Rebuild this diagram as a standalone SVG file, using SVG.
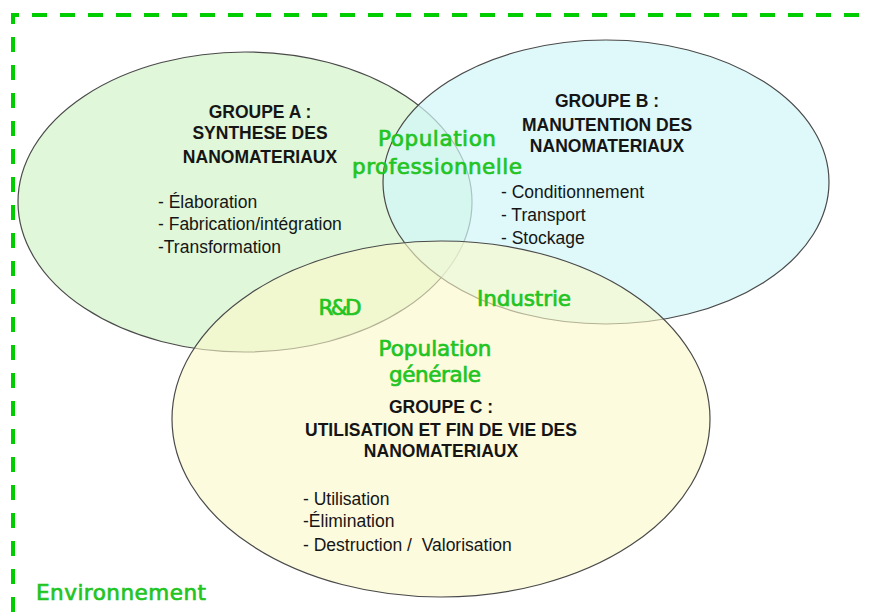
<svg xmlns="http://www.w3.org/2000/svg" width="871" height="612" viewBox="0 0 871 612">
  <style>
    .ell { stroke: #4a4a4a; stroke-width: 1.2; }
    .head { font-family: "Liberation Sans", Arial, sans-serif; font-size: 17.5px; font-weight: bold; fill: #151515; text-anchor: middle; }
    .item { font-family: "Liberation Sans", Arial, sans-serif; font-size: 17.5px; fill: #151515; white-space: pre; }
    .pop { font-family: "DejaVu Sans", Verdana, sans-serif; font-size: 21.5px; fill: #22c422; stroke: #22c422; stroke-width: 0.7; text-anchor: middle; }
    .frame { fill: none; stroke: #00cc00; stroke-width: 4; stroke-dasharray: 15 13; }
  </style>
  <rect width="871" height="612" fill="#ffffff"/>

  <!-- dashed environment frame -->
  <path class="frame" d="M13 612 V15 H871"/>

  <g id="groupe-a">
    <ellipse class="ell" cx="245" cy="202" rx="227" ry="150" fill="#d8f5d0" fill-opacity="0.8"/>
  </g>
  <g id="groupe-b">
    <ellipse class="ell" cx="606" cy="182" rx="223" ry="142" fill="#d2f7f8" fill-opacity="0.7"/>
  </g>
  <g id="groupe-c">
    <ellipse class="ell" cx="441" cy="419" rx="269" ry="178" fill="#fbf8c8" fill-opacity="0.6"/>
  </g>

  <!-- group texts -->
  <g id="texte-a">
    <text class="head" x="260" y="118">GROUPE A :</text>
    <text class="head" x="260" y="139">SYNTHESE DES</text>
    <text class="head" x="260" y="163">NANOMATERIAUX</text>
    <text class="item" x="158" y="208">- Élaboration</text>
    <text class="item" x="158" y="230">- Fabrication/intégration</text>
    <text class="item" x="158" y="253">-Transformation</text>
  </g>
  <g id="texte-b">
    <text class="head" x="607" y="107">GROUPE B :</text>
    <text class="head" x="607" y="131">MANUTENTION DES</text>
    <text class="head" x="607" y="152">NANOMATERIAUX</text>
    <text class="item" x="501" y="198">- Conditionnement</text>
    <text class="item" x="501" y="221">- Transport</text>
    <text class="item" x="501" y="244">- Stockage</text>
  </g>
  <g id="texte-c">
    <text class="head" x="441" y="413">GROUPE C :</text>
    <text class="head" x="441" y="436">UTILISATION ET FIN DE VIE DES</text>
    <text class="head" x="441" y="457">NANOMATERIAUX</text>
    <text class="item" x="303" y="505">- Utilisation</text>
    <text class="item" x="303" y="527">-Élimination</text>
    <text class="item" x="303" y="551" xml:space="preserve">- Destruction /  Valorisation</text>
  </g>

  <!-- population labels -->
  <g id="labels">
    <text class="pop" x="437" y="146" textLength="118">Population</text>
    <text class="pop" x="437" y="174" textLength="170">professionnelle</text>
    <text class="pop" x="340" y="315" textLength="43">R&amp;D</text>
    <text class="pop" x="524" y="306" textLength="94">Industrie</text>
    <text class="pop" x="435" y="356" textLength="113">Population</text>
    <text class="pop" x="435" y="382" textLength="92">générale</text>
    <text class="pop" x="121" y="600" textLength="170">Environnement</text>
  </g>
</svg>
